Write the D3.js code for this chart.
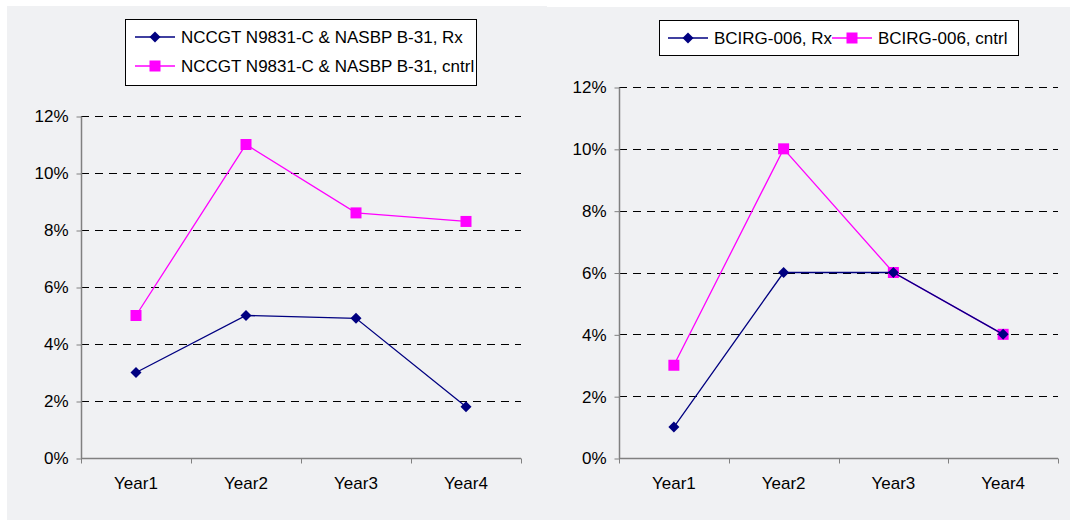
<!DOCTYPE html>
<html>
<head>
<meta charset="utf-8">
<script src="https://cdn.jsdelivr.net/npm/d3@7"></script>
<style>
  html, body { margin: 0; padding: 0; background: #ffffff; }
  svg { display: block; }
  text { font-family: "Liberation Sans", Arial, sans-serif; fill: #000; }
</style>
</head>
<body>
<svg id="chart" width="1070" height="520"></svg>
<script>
// Category labels shared by both panels
const years = ["Year1", "Year2", "Year3", "Year4"];
// Y axis tick values (percent)
const yTicks = [0, 2, 4, 6, 8, 10, 12];

// Left panel: NCCGT N9831-C & NASBP B-31
const nccgtRx = [3.0, 5.0, 4.9, 1.8];
const nccgtCntrl = [5.0, 11.0, 8.6, 8.3];
const nccgtLabels = ["NCCGT N9831-C & NASBP B-31, Rx", "NCCGT N9831-C & NASBP B-31, cntrl"];

// Right panel: BCIRG-006
const bcirgRx = [1, 6, 6, 4];
const bcirgCntrl = [3, 10, 6, 4];
const bcirgLabels = ["BCIRG-006, Rx", "BCIRG-006, cntrl"];

const RX_COLOR = "#000080";
const CNTRL_COLOR = "#ff00ff";
const FONT = "17px";

const svg = d3.select("#chart");

// panel backgrounds
svg.append("rect").attr("x", 7).attr("y", 6).attr("width", 540).attr("height", 514).attr("fill", "#f0f1f3");
svg.append("rect").attr("x", 546).attr("y", 7).attr("width", 524).attr("height", 513).attr("fill", "#f0f1f3");

function marker(g, type, color, x, y) {
  if (type === "square") {
    g.append("rect").attr("x", x - 5.5).attr("y", y - 5.5).attr("width", 11).attr("height", 11)
      .attr("fill", color);
  } else {
    g.append("path").attr("d", `M${x},${y - 5.5}L${x + 5.5},${y}L${x},${y + 5.5}L${x - 5.5},${y}Z`)
      .attr("fill", color);
  }
}

function panel(opts) {
  const g = svg.append("g");
  const x = d3.scaleBand().domain(years).range([opts.x0, opts.x1]);
  const y = d3.scaleLinear().domain([0, 12]).range([opts.yBottom, opts.yTop]);

  // dashed gridlines
  g.append("g").selectAll("line").data(yTicks.filter(d => d > 0)).join("line")
    .attr("x1", opts.x0).attr("x2", opts.x1)
    .attr("y1", d => Math.round(y(d)) + 0.5).attr("y2", d => Math.round(y(d)) + 0.5)
    .attr("stroke", "#000").attr("stroke-width", 1).attr("stroke-dasharray", "8,6");

  // y axis
  const yAxis = d3.axisLeft(y).tickValues(yTicks).tickSize(5).tickPadding(8)
    .tickFormat(d => d + "%");
  const ya = g.append("g").attr("transform", `translate(${opts.x0 + 0.5},0.5)`).call(yAxis);
  ya.select(".domain").attr("stroke", "#808080").attr("stroke-width", 1.5).attr("d", `M0,${opts.yTop}V${opts.yBottom}`);
  ya.selectAll(".tick line").attr("stroke", "#808080");
  ya.selectAll(".tick text").style("font-size", FONT).attr("fill", "#000")
    .attr("font-family", "Liberation Sans, Arial, sans-serif");

  // x axis with ticks on band boundaries
  const xa = g.append("g").attr("transform", `translate(0,${Math.round(opts.yBottom) + 0.5})`);
  xa.append("line").attr("x1", opts.x0).attr("x2", opts.x1).attr("stroke", "#808080").attr("stroke-width", 1.5);
  const bounds = years.map(d => x(d)).concat([opts.x1]);
  xa.selectAll("line.tk").data(bounds).join("line").attr("class", "tk")
    .attr("x1", d => Math.round(d) + 0.5).attr("x2", d => Math.round(d) + 0.5)
    .attr("y1", 0).attr("y2", 5).attr("stroke", "#808080");
  xa.selectAll("text").data(years).join("text")
    .attr("x", d => x(d) + x.bandwidth() / 2).attr("y", 30)
    .attr("text-anchor", "middle").style("font-size", FONT).text(d => d);

  const line = d3.line().x((d, i) => x(years[i]) + x.bandwidth() / 2).y(d => y(d));

  [[opts.cntrl, CNTRL_COLOR, "square"], [opts.rx, RX_COLOR, "diamond"]].forEach(([vals, color, type]) => {
    g.append("path").datum(vals).attr("d", line).attr("fill", "none")
      .attr("stroke", color).attr("stroke-width", 1.3);
    vals.forEach((v, i) => marker(g, type, color, x(years[i]) + x.bandwidth() / 2, y(v)));
  });

  // legend
  const lg = g.append("g");
  lg.append("rect").attr("x", opts.legend.x + 0.5).attr("y", opts.legend.y + 0.5)
    .attr("width", opts.legend.w).attr("height", opts.legend.h)
    .attr("fill", "#fff").attr("stroke", "#000").attr("stroke-width", 1);
  opts.legend.items.forEach((it, i) => {
    const [lx, ly] = it.pos;
    lg.append("line").attr("x1", lx).attr("x2", lx + 40).attr("y1", ly).attr("y2", ly)
      .attr("stroke", it.color).attr("stroke-width", 1.3);
    marker(lg, it.type, it.color, lx + 20, ly);
    lg.append("text").attr("x", lx + 46).attr("y", ly + 6).style("font-size", FONT).text(it.label);
  });
}

panel({
  x0: 81, x1: 521, yTop: 116, yBottom: 458,
  rx: nccgtRx, cntrl: nccgtCntrl,
  legend: {
    x: 125, y: 19, w: 351, h: 66,
    items: [
      { pos: [135, 37], color: RX_COLOR, type: "diamond", label: nccgtLabels[0] },
      { pos: [135, 66], color: CNTRL_COLOR, type: "square", label: nccgtLabels[1] }
    ]
  }
});

panel({
  x0: 619, x1: 1058, yTop: 87, yBottom: 458,
  rx: bcirgRx, cntrl: bcirgCntrl,
  legend: {
    x: 659, y: 20, w: 359, h: 35,
    items: [
      { pos: [668, 38], color: RX_COLOR, type: "diamond", label: bcirgLabels[0] },
      { pos: [832, 38], color: CNTRL_COLOR, type: "square", label: bcirgLabels[1] }
    ]
  }
});
</script>
</body>
</html>
